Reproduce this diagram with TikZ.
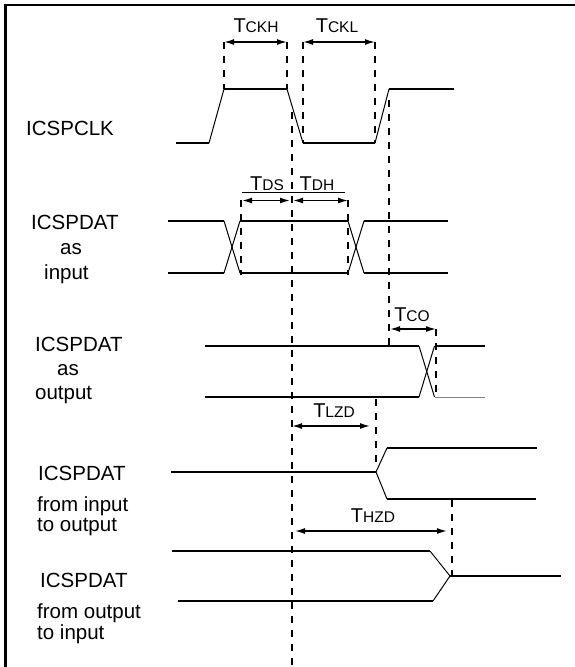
\documentclass[tikz,border=0pt]{standalone}
\usepackage{fontspec}
\setmainfont{Liberation Sans}
\usetikzlibrary{arrows.meta}
\newcommand\tlabel[1]{{\fontsize{20}{20}\selectfont T}{\fontsize{15.5}{15.5}\selectfont #1}}
\begin{document}
\begin{tikzpicture}[x=1pt,y=-1pt,
  sig/.style={line width=1.6pt},
  edge/.style={line width=1pt},
  guide/.style={line width=1.5pt, dash pattern=on 7pt off 7pt},
  dim/.style={line width=1.5pt, {Latex[length=10pt,width=6pt]}-{Latex[length=10pt,width=6pt]}},
  lbl/.style={anchor=base west, inner sep=0pt, font=\fontsize{20.5}{20.5}\selectfont},
  tl/.style={anchor=base, inner sep=0pt}]
\useasboundingbox (0,0) rectangle (575,667);
% frame
\draw[line width=2.5pt] (5.5,667) -- (5.5,5) -- (575,5);

% labels
\node[lbl] (clk) at (26,135) {ICSPCLK};
\node[lbl] (in1) at (31,229) {ICSPDAT};
\node[lbl] (in2) at (60,254) {as};
\node[lbl] (in3) at (44,279) {input};
\node[lbl] (out1) at (35,351) {ICSPDAT};
\node[lbl] (out2) at (57,375) {as};
\node[lbl] (out3) at (35,399) {output};
\node[lbl] (io1) at (38,480) {ICSPDAT};
\node[lbl] (io2) at (37,511) {from input};
\node[lbl] (io3) at (37,531) {to output};
\node[lbl] (oi1) at (40,587) {ICSPDAT};
\node[lbl] (oi2) at (37,618) {from output};
\node[lbl] (oi3) at (37,639) {to input};

% timing labels
\node[tl] (tckh) at (256,32) {\tlabel{CKH}};
\node[tl] (tckl) at (337,32) {\tlabel{CKL}};
\node[tl] (tds) at (267,190) {\tlabel{DS}};
\node[tl] (tdh) at (317,190) {\tlabel{DH}};
\node[tl] (tco) at (412,321) {\tlabel{CO}};
\node[tl] (tlzd) at (334,417) {\tlabel{LZD}};
\node[tl] (thzd) at (373,522) {\tlabel{HZD}};
\draw[line width=0.8pt] (242,192) -- (345,192);

% guide lines
\draw[guide] (224,42) -- (224,89);
\draw[guide] (287,42) -- (287,89);
\draw[guide] (303,42) -- (303,143);
\draw[guide] (375,42) -- (375,143);
\draw[guide] (292,112) -- (292,667);
\draw[guide] (389,100) -- (389,346);
\draw[guide] (241,200) -- (241,275);
\draw[guide] (348,200) -- (348,275);
\draw[guide] (436,329) -- (436,397);
\draw[guide] (376,399) -- (376,465);
\draw[guide] (452,500) -- (452,576);

% dimension arrows
\draw[dim] (224,42) -- (287,42);
\draw[dim] (303,42) -- (375,42);
\draw[dim] (242,200.5) -- (290,200.5);
\draw[dim] (293,200.5) -- (348,200.5);
\draw[dim] (390,329) -- (436,329);
\draw[dim] (292,426) -- (370,426);
\draw[dim] (295,531) -- (447,531);

% ICSPCLK
\draw[sig] (176,143) -- (209,143);
\draw[edge] (209,143) -- (224,89);
\draw[sig] (224,89) -- (287,89);
\draw[edge] (287,89) -- (303,143);
\draw[sig] (303,143) -- (375,143);
\draw[edge] (375,143) -- (389,89);
\draw[sig] (389,89) -- (454,89);

% ICSPDAT as input
\draw[sig] (168,221) -- (224,221);
\draw[sig] (168,273) -- (224,273);
\draw[edge] (224,221) -- (240,273);
\draw[edge] (224,273) -- (240,221);
\draw[sig] (240,221) -- (348,221);
\draw[sig] (240,273) -- (348,273);
\draw[edge] (348,221) -- (364,273);
\draw[edge] (348,273) -- (364,221);
\draw[sig] (364,221) -- (448,221);
\draw[sig] (364,273) -- (448,273);

% ICSPDAT as output
\draw[sig] (205,346) -- (419,346);
\draw[sig] (205,397) -- (419,397);
\draw[edge] (419,346) -- (434.5,397);
\draw[edge] (419,397) -- (434.5,346);
\draw[sig] (434.5,346) -- (485,346);
\draw[line width=1pt, gray] (434.5,397) -- (485,397);

% from input to output
\draw[sig] (171,472) -- (376,472);
\draw[edge] (376,472) -- (387,448);
\draw[edge] (376,472) -- (387,499);
\draw[sig] (387,448) -- (537,448);
\draw[sig] (387,499) -- (536,499);

% from output to input
\draw[sig] (172,551) -- (430,551);
\draw[sig] (178,601) -- (433,601);
\draw[edge] (430,551) -- (450,576);
\draw[edge] (433,601) -- (450,576);
\draw[sig] (450,576) -- (561,576);
\end{tikzpicture}
\end{document}
